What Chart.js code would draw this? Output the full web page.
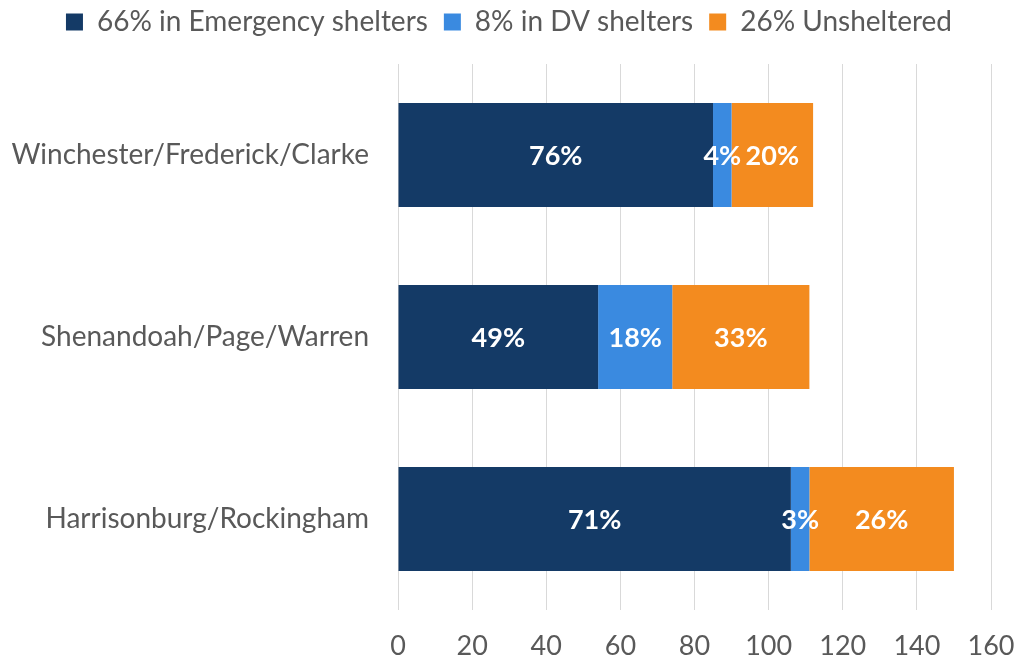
<!DOCTYPE html>
<html>
<head>
<meta charset="utf-8">
<script src="https://cdn.jsdelivr.net/npm/chart.js@4/dist/chart.umd.min.js"></script>
<style>
    html, body { margin: 0; padding: 0; background: #ffffff; }
    #wrap { width: 1018px; height: 664px; }
</style>
</head>
<body>
<div id="wrap"><canvas id="chart"></canvas></div>
<script>
// Homeless counts by locality, split by shelter type
const categories = ['Winchester/Frederick/Clarke', 'Shenandoah/Page/Warren', 'Harrisonburg/Rockingham'];
const seriesNames = ['66% in Emergency shelters', '8% in DV shelters', '26% Unsheltered'];
const emergency = [85, 54, 106];
const dvShelters = [5, 20, 5];
const unsheltered = [22, 37, 39];
const emergencyPct = ['76%', '49%', '71%'];
const dvPct = ['4%', '18%', '3%'];
const unshelteredPct = ['20%', '33%', '26%'];
const xTicks = [0, 20, 40, 60, 80, 100, 120, 140, 160];

const FONT = 'Lato, "Open Sans", sans-serif';
const COLORS = ['#143a66', '#3a8ae0', '#f38b1f'];
const pctLabels = [emergencyPct, dvPct, unshelteredPct];

// draw the percentage text in the middle of each segment
const segmentLabels = {
    id: 'segmentLabels',
    afterDatasetsDraw(chart) {
        const ctx = chart.ctx;
        ctx.save();
        ctx.fillStyle = '#ffffff';
        ctx.font = 'bold 27px ' + FONT;
        ctx.textAlign = 'center';
        ctx.textBaseline = 'middle';
        chart.data.datasets.forEach((ds, di) => {
            const meta = chart.getDatasetMeta(di);
            meta.data.forEach((bar, i) => {
                const cx = (bar.x + bar.base) / 2;
                ctx.fillText(pctLabels[di][i], cx, bar.y + 1);
            });
        });
        ctx.restore();
    }
};

// extra gap below the legend
const legendGap = {
    id: 'legendGap',
    beforeInit(chart) {
        const origFit = chart.legend.fit;
        chart.legend.fit = function () {
            origFit.bind(chart.legend)();
            this.height += 18;
        };
    }
};

new Chart(document.getElementById('chart').getContext('2d'), {
    type: 'bar',
    data: {
        labels: categories,
        datasets: [
            { label: seriesNames[0], data: emergency, backgroundColor: COLORS[0] },
            { label: seriesNames[1], data: dvShelters, backgroundColor: COLORS[1] },
            { label: seriesNames[2], data: unsheltered, backgroundColor: COLORS[2] }
        ]
    },
    options: {
        indexAxis: 'y',
        responsive: true, maintainAspectRatio: false,
        animation: false,
        layout: { padding: { left: 0, right: 0, top: -8, bottom: 4 } },
        datasets: { bar: { categoryPercentage: 0.572, barPercentage: 1.0 } },
        plugins: {
            legend: {
                position: 'top',
                labels: { color: '#595959', font: { family: FONT, size: 28 }, boxWidth: 17, boxHeight: 17, padding: 16 }
            },
            tooltip: { enabled: false }
        },
        scales: {
            x: {
                stacked: true, min: 0, max: 160,
                afterBuildTicks: axis => { axis.ticks = xTicks.map(v => ({ value: v })); },
                afterFit: axis => { axis.paddingRight = 27; axis.paddingLeft = 0; axis.height = 50; },
                ticks: { color: '#595959', font: { family: FONT, size: 27 }, padding: 20 },
                grid: { color: '#d9d9d9', drawTicks: false },
                border: { display: false }
            },
            y: {
                stacked: true,
                afterFit: axis => { axis.width = 398; },
                ticks: { color: '#595959', font: { family: FONT, size: 28 }, padding: 21 },
                grid: { display: false },
                border: { display: false }
            }
        }
    },
    plugins: [segmentLabels, legendGap]
});
</script>
</body>
</html>
